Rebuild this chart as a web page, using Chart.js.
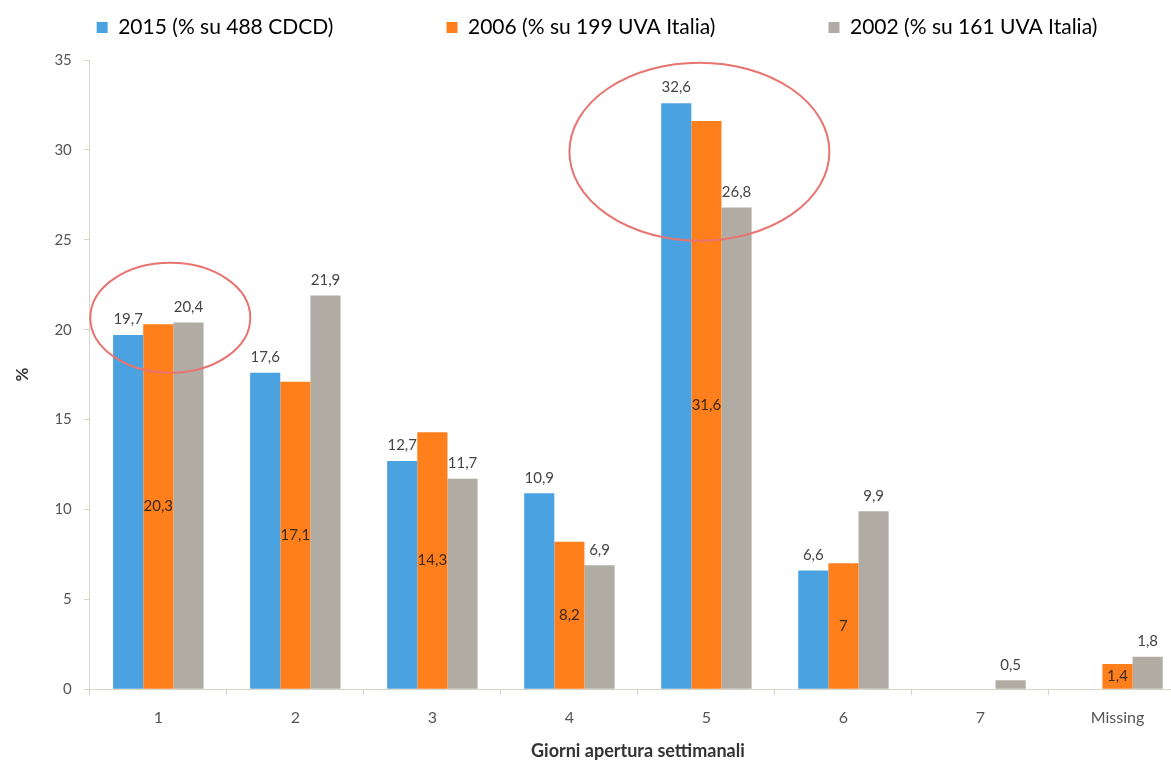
<!DOCTYPE html>
<html>
<head>
<meta charset="utf-8">
<script src="https://cdn.jsdelivr.net/npm/chart.js@4/dist/chart.umd.min.js"></script>
<style>
  html, body { margin: 0; padding: 0; background: #fff; overflow: hidden; }
  #wrap { width: 1186px; height: 763px; position: relative; }
</style>
</head>
<body>
<div id="wrap"><canvas id="chart"></canvas></div>
<script>
const categories = ["1", "2", "3", "4", "5", "6", "7", "Missing"];
const seriesLabels = ["2015 (% su 488 CDCD)", "2006 (% su 199 UVA Italia)", "2002 (% su 161 UVA Italia)"];
const values2015 = [19.7, 17.6, 12.7, 10.9, 32.6, 6.6, null, null];
const values2006 = [20.3, 17.1, 14.3, 8.2, 31.6, 7, null, 1.4];
const values2002 = [20.4, 21.9, 11.7, 6.9, 26.8, 9.9, 0.5, 1.8];
const yTicks = [0, 5, 10, 15, 20, 25, 30, 35];

// red highlight circles (category index, value at centre)
const highlights = [
  { cat: 0, value: 20.66, dx: 12, rx: 80, ry: 55 },
  { cat: 4, value: 29.9, dx: -7, rx: 130, ry: 89 }
];

const colors = ["#4aa3e0", "#ff7f1d", "#b0aca3"];
const fontFam = "Lato, 'Open Sans', sans-serif";

function fmt(v) {
  return String(v).replace(".", ",");
}

// leave some room under the legend
const legendGap = {
  id: "legendGap",
  beforeLayout(chart) {
    const lg = chart.legend;
    if (!lg || lg._gapDone) return;
    const fit = lg.fit.bind(lg);
    lg.fit = function () { fit(); this.height += 12; };
    lg._gapDone = true;
  }
};

const labelPlugin = {
  id: "barLabels",
  afterDatasetsDraw(chart) {
    const ctx = chart.ctx;
    ctx.save();
    ctx.font = "15px " + fontFam;
    ctx.textAlign = "center";
    chart.data.datasets.forEach((ds, i) => {
      const meta = chart.getDatasetMeta(i);
      meta.data.forEach((bar, j) => {
        const v = ds.data[j];
        if (v === null || v === undefined) return;
        if (i === 1) {
          ctx.fillStyle = "#3a2a1a";
          ctx.textBaseline = "middle";
          ctx.fillText(fmt(v), bar.x, (bar.y + bar.base) / 2);
        } else {
          ctx.fillStyle = "#444";
          ctx.textBaseline = "bottom";
          ctx.fillText(fmt(v), bar.x, bar.y - 8);
        }
      });
    });
    ctx.restore();
  }
};

const circlePlugin = {
  id: "circles",
  afterDraw(chart) {
    const ctx = chart.ctx;
    const xs = chart.scales.x, ys = chart.scales.y;
    ctx.save();
    ctx.strokeStyle = "#e8746f";
    ctx.lineWidth = 2;
    highlights.forEach(h => {
      const cx = xs.getPixelForValue(h.cat) + h.dx;
      const cy = ys.getPixelForValue(h.value);
      ctx.beginPath();
      ctx.ellipse(cx, cy, h.rx, h.ry, 0, 0, Math.PI * 2);
      ctx.stroke();
    });
    ctx.restore();
  }
};

new Chart(document.getElementById("chart"), {
  type: "bar",
  data: {
    labels: categories,
    datasets: [values2015, values2006, values2002].map((d, i) => ({
      label: seriesLabels[i],
      data: d,
      backgroundColor: colors[i],
      barPercentage: 1.0,
      categoryPercentage: 0.66
    }))
  },
  options: {
    responsive: true,
    maintainAspectRatio: false,
    animation: false,
    layout: { padding: { left: 8, right: 0, top: 6, bottom: 0 } },
    plugins: {
      legend: {
        position: "top",
        align: "center",
        labels: {
          boxWidth: 11,
          boxHeight: 11,
          padding: 11,
          color: "#333",
          font: { family: fontFam, size: 21 },
          generateLabels(chart) {
            const n = chart.data.datasets.length;
            return chart.data.datasets.map((ds, i) => ({
              text: ds.label + (i < n - 1 ? "                   " : ""),
              fillStyle: ds.backgroundColor,
              strokeStyle: ds.backgroundColor,
              lineWidth: 0,
              datasetIndex: i
            }));
          }
        }
      },
      tooltip: { enabled: false }
    },
    scales: {
      x: {
        grid: { display: true, drawOnChartArea: false, drawTicks: true, tickLength: 6, color: "#d9d4c9" },
        border: { color: "#d9d4c9" },
        ticks: { color: "#555", font: { family: fontFam, size: 16 }, padding: 13 },
        title: { display: true, text: "Giorni apertura settimanali", color: "#333", font: { family: fontFam, size: 18, weight: "bold" }, padding: { top: 0, bottom: 1 } }
      },
      y: {
        min: 0,
        max: 35,
        afterBuildTicks(scale) { scale.ticks = yTicks.map(v => ({ value: v })); },
        grid: { display: true, drawOnChartArea: false, drawTicks: true, tickLength: 6, color: "#d9d4c9" },
        border: { color: "#d9d4c9" },
        ticks: { color: "#555", font: { family: fontFam, size: 15 }, padding: 12 },
        title: { display: true, text: "%", color: "#333", font: { family: fontFam, size: 17, weight: "bold" }, padding: { top: 4, bottom: 10 } }
      }
    }
  },
  plugins: [legendGap, labelPlugin, circlePlugin]
});
</script>
</body>
</html>
